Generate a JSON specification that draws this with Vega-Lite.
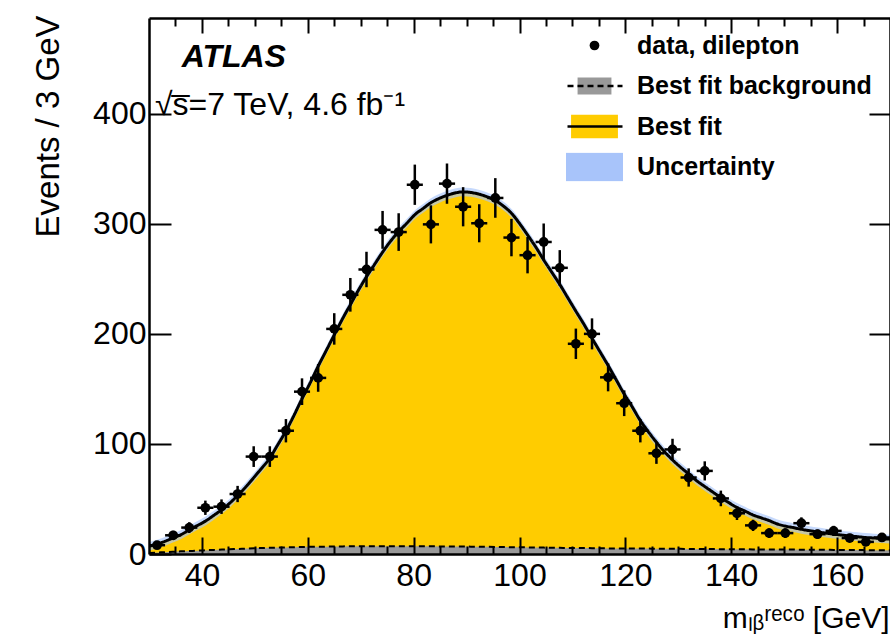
{
  "$schema": "https://vega.github.io/schema/vega-lite/v6.json",
  "width": 741,
  "height": 536,
  "autosize": {"type": "none"},
  "padding": {"left": 149, "top": 18, "right": 0, "bottom": 81},
  "background": "white",
  "config": {"font": "Liberation Sans", "view": {"stroke": null}},
  "title": {
    "text": "\u200b\u00a0\u00a0\u00a0ATLAS",
    "subtitle": "√s̅=7 TeV, 4.6 fb⁻¹",
    "anchor": "start",
    "frame": "group",
    "orient": "top",
    "offset": 0,
    "dx": 6,
    "dy": 107,
    "font": "Liberation Sans",
    "fontSize": 32,
    "fontWeight": "bold",
    "fontStyle": "italic",
    "color": "black",
    "subtitleFont": "Liberation Sans",
    "subtitleFontSize": 32,
    "subtitleColor": "black",
    "subtitlePadding": 16
  },
  "datasets": {
    "pts": [
      {"x": 31.52, "n": 8, "lo": 5.2, "hi": 10.8, "xl": 30.0, "xh": 33.04},
      {"x": 34.57, "n": 17, "lo": 12.9, "hi": 21.1, "xl": 33.04, "xh": 36.09},
      {"x": 37.61, "n": 24, "lo": 19.1, "hi": 28.9, "xl": 36.09, "xh": 39.13},
      {"x": 40.65, "n": 42, "lo": 35.5, "hi": 48.5, "xl": 39.13, "xh": 42.17},
      {"x": 43.7, "n": 43, "lo": 36.4, "hi": 49.6, "xl": 42.17, "xh": 45.22},
      {"x": 46.74, "n": 54.5, "lo": 47.1, "hi": 61.9, "xl": 45.22, "xh": 48.26},
      {"x": 49.78, "n": 88.5, "lo": 79.1, "hi": 97.9, "xl": 48.26, "xh": 51.3},
      {"x": 52.83, "n": 88.5, "lo": 79.1, "hi": 97.9, "xl": 51.3, "xh": 54.35},
      {"x": 55.87, "n": 112, "lo": 101.4, "hi": 122.6, "xl": 54.35, "xh": 57.39},
      {"x": 58.91, "n": 147.5, "lo": 135.4, "hi": 159.6, "xl": 57.39, "xh": 60.43},
      {"x": 61.96, "n": 160, "lo": 147.4, "hi": 172.6, "xl": 60.43, "xh": 63.48},
      {"x": 65.0, "n": 204.5, "lo": 190.2, "hi": 218.8, "xl": 63.48, "xh": 66.52},
      {"x": 68.04, "n": 235.5, "lo": 220.2, "hi": 250.8, "xl": 66.52, "xh": 69.57},
      {"x": 71.09, "n": 258.5, "lo": 242.4, "hi": 274.6, "xl": 69.57, "xh": 72.61},
      {"x": 74.13, "n": 294.5, "lo": 277.3, "hi": 311.7, "xl": 72.61, "xh": 75.65},
      {"x": 77.17, "n": 292.5, "lo": 275.4, "hi": 309.6, "xl": 75.65, "xh": 78.7},
      {"x": 80.22, "n": 335.5, "lo": 317.2, "hi": 353.8, "xl": 78.7, "xh": 81.74},
      {"x": 83.26, "n": 299.5, "lo": 282.2, "hi": 316.8, "xl": 81.74, "xh": 84.78},
      {"x": 86.3, "n": 336.5, "lo": 318.2, "hi": 354.8, "xl": 84.78, "xh": 87.83},
      {"x": 89.35, "n": 315.5, "lo": 297.7, "hi": 333.3, "xl": 87.83, "xh": 90.87},
      {"x": 92.39, "n": 300.5, "lo": 283.2, "hi": 317.8, "xl": 90.87, "xh": 93.91},
      {"x": 95.43, "n": 323.5, "lo": 305.5, "hi": 341.5, "xl": 93.91, "xh": 96.96},
      {"x": 98.48, "n": 287.5, "lo": 270.5, "hi": 304.5, "xl": 96.96, "xh": 100.0},
      {"x": 101.52, "n": 271.5, "lo": 255.0, "hi": 288.0, "xl": 100.0, "xh": 103.04},
      {"x": 104.57, "n": 283.5, "lo": 266.7, "hi": 300.3, "xl": 103.04, "xh": 106.09},
      {"x": 107.61, "n": 260, "lo": 243.9, "hi": 276.1, "xl": 106.09, "xh": 109.13},
      {"x": 110.65, "n": 191, "lo": 177.2, "hi": 204.8, "xl": 109.13, "xh": 112.17},
      {"x": 113.7, "n": 200, "lo": 185.9, "hi": 214.1, "xl": 112.17, "xh": 115.22},
      {"x": 116.74, "n": 160.5, "lo": 147.8, "hi": 173.2, "xl": 115.22, "xh": 118.26},
      {"x": 119.78, "n": 137, "lo": 125.3, "hi": 148.7, "xl": 118.26, "xh": 121.3},
      {"x": 122.83, "n": 112, "lo": 101.4, "hi": 122.6, "xl": 121.3, "xh": 124.35},
      {"x": 125.87, "n": 91.5, "lo": 81.9, "hi": 101.1, "xl": 124.35, "xh": 127.39},
      {"x": 128.91, "n": 95, "lo": 85.3, "hi": 104.7, "xl": 127.39, "xh": 130.43},
      {"x": 131.96, "n": 69.5, "lo": 61.2, "hi": 77.8, "xl": 130.43, "xh": 133.48},
      {"x": 135.0, "n": 75.5, "lo": 66.8, "hi": 84.2, "xl": 133.48, "xh": 136.52},
      {"x": 138.04, "n": 50.5, "lo": 43.4, "hi": 57.6, "xl": 136.52, "xh": 139.57},
      {"x": 141.09, "n": 37, "lo": 30.9, "hi": 43.1, "xl": 139.57, "xh": 142.61},
      {"x": 144.13, "n": 26, "lo": 20.9, "hi": 31.1, "xl": 142.61, "xh": 145.65},
      {"x": 147.17, "n": 19, "lo": 14.6, "hi": 23.4, "xl": 145.65, "xh": 148.7},
      {"x": 150.22, "n": 19, "lo": 14.6, "hi": 23.4, "xl": 148.7, "xh": 151.74},
      {"x": 153.26, "n": 28, "lo": 22.7, "hi": 33.3, "xl": 151.74, "xh": 154.78},
      {"x": 156.3, "n": 18, "lo": 13.8, "hi": 22.2, "xl": 154.78, "xh": 157.83},
      {"x": 159.35, "n": 21, "lo": 16.4, "hi": 25.6, "xl": 157.83, "xh": 160.87},
      {"x": 162.39, "n": 14.5, "lo": 10.7, "hi": 18.3, "xl": 160.87, "xh": 163.91},
      {"x": 165.43, "n": 11, "lo": 7.7, "hi": 14.3, "xl": 163.91, "xh": 166.96},
      {"x": 168.48, "n": 15, "lo": 11.1, "hi": 18.9, "xl": 166.96, "xh": 170.0}
    ],
    "fit": [
      {"x": 30, "fit": 7, "lo": 3, "hi": 11, "bkg": 1},
      {"x": 31.5, "fit": 9, "lo": 5, "hi": 13, "bkg": 1.3},
      {"x": 33, "fit": 11.5, "lo": 7.5, "hi": 15.5, "bkg": 1.7},
      {"x": 34.5, "fit": 14.5, "lo": 10.5, "hi": 18.5, "bkg": 2},
      {"x": 36, "fit": 17.5, "lo": 13.5, "hi": 21.5, "bkg": 2.4},
      {"x": 37.5, "fit": 21.5, "lo": 17.5, "hi": 25.5, "bkg": 2.7},
      {"x": 39, "fit": 25.5, "lo": 21.5, "hi": 29.5, "bkg": 3},
      {"x": 40.7, "fit": 30, "lo": 26, "hi": 34, "bkg": 3.4},
      {"x": 42.2, "fit": 35, "lo": 31, "hi": 39, "bkg": 3.7},
      {"x": 43.8, "fit": 40.5, "lo": 36.5, "hi": 44.5, "bkg": 4},
      {"x": 45.2, "fit": 46, "lo": 42, "hi": 50, "bkg": 4.3},
      {"x": 46.7, "fit": 53, "lo": 49, "hi": 57, "bkg": 4.6},
      {"x": 48.3, "fit": 61, "lo": 57, "hi": 65, "bkg": 4.9},
      {"x": 49.9, "fit": 70, "lo": 66, "hi": 74, "bkg": 5.2},
      {"x": 51.3, "fit": 78, "lo": 74, "hi": 82, "bkg": 5.4},
      {"x": 52.8, "fit": 87, "lo": 83, "hi": 91, "bkg": 5.6},
      {"x": 54.3, "fit": 99, "lo": 95, "hi": 103, "bkg": 5.8},
      {"x": 55.9, "fit": 112, "lo": 108, "hi": 116, "bkg": 6},
      {"x": 57.4, "fit": 126, "lo": 122, "hi": 130, "bkg": 6.2},
      {"x": 58.9, "fit": 141, "lo": 137, "hi": 145, "bkg": 6.4},
      {"x": 60.4, "fit": 155, "lo": 151, "hi": 159, "bkg": 6.5},
      {"x": 61.9, "fit": 170, "lo": 166, "hi": 174, "bkg": 6.6},
      {"x": 63.5, "fit": 185, "lo": 181, "hi": 189, "bkg": 6.7},
      {"x": 65.1, "fit": 200, "lo": 196, "hi": 204, "bkg": 6.8},
      {"x": 66.6, "fit": 214, "lo": 210, "hi": 218, "bkg": 6.9},
      {"x": 68.1, "fit": 227, "lo": 223, "hi": 231, "bkg": 7},
      {"x": 69.6, "fit": 240, "lo": 236, "hi": 244, "bkg": 7},
      {"x": 71.1, "fit": 252, "lo": 248, "hi": 256, "bkg": 7},
      {"x": 72.6, "fit": 263, "lo": 259, "hi": 267, "bkg": 7},
      {"x": 74.1, "fit": 274, "lo": 270, "hi": 278, "bkg": 7},
      {"x": 75.6, "fit": 284, "lo": 280, "hi": 288, "bkg": 7},
      {"x": 77.2, "fit": 293, "lo": 289, "hi": 297, "bkg": 7},
      {"x": 78.8, "fit": 301, "lo": 297, "hi": 305, "bkg": 7},
      {"x": 80.4, "fit": 309, "lo": 305, "hi": 313, "bkg": 7},
      {"x": 81.8, "fit": 314, "lo": 310, "hi": 318, "bkg": 7},
      {"x": 83.2, "fit": 319, "lo": 315, "hi": 323, "bkg": 7},
      {"x": 84.8, "fit": 323, "lo": 319, "hi": 327, "bkg": 6.9},
      {"x": 86.4, "fit": 326, "lo": 322, "hi": 330, "bkg": 6.9},
      {"x": 87.8, "fit": 328, "lo": 324, "hi": 332, "bkg": 6.8},
      {"x": 89.3, "fit": 329, "lo": 325, "hi": 333, "bkg": 6.8},
      {"x": 90.8, "fit": 328.5, "lo": 324.5, "hi": 332.5, "bkg": 6.7},
      {"x": 92.3, "fit": 327, "lo": 323, "hi": 331, "bkg": 6.6},
      {"x": 93.9, "fit": 324.5, "lo": 320.5, "hi": 328.5, "bkg": 6.5},
      {"x": 95.5, "fit": 321, "lo": 317, "hi": 325, "bkg": 6.4},
      {"x": 97, "fit": 316, "lo": 312, "hi": 320, "bkg": 6.3},
      {"x": 98.6, "fit": 309, "lo": 305, "hi": 313, "bkg": 6.2},
      {"x": 100.2, "fit": 299, "lo": 295, "hi": 303, "bkg": 6.1},
      {"x": 101.8, "fit": 288, "lo": 284, "hi": 292, "bkg": 6},
      {"x": 103.2, "fit": 278, "lo": 274, "hi": 282, "bkg": 5.9},
      {"x": 104.6, "fit": 267, "lo": 263, "hi": 271, "bkg": 5.8},
      {"x": 106.1, "fit": 256, "lo": 252, "hi": 260, "bkg": 5.7},
      {"x": 107.6, "fit": 245, "lo": 241, "hi": 249, "bkg": 5.6},
      {"x": 109.1, "fit": 233, "lo": 229, "hi": 237, "bkg": 5.5},
      {"x": 110.6, "fit": 221, "lo": 217, "hi": 225, "bkg": 5.5},
      {"x": 112.2, "fit": 208.5, "lo": 204.5, "hi": 212.5, "bkg": 5.4},
      {"x": 113.7, "fit": 196, "lo": 192, "hi": 200, "bkg": 5.3},
      {"x": 115.3, "fit": 183, "lo": 179, "hi": 187, "bkg": 5.2},
      {"x": 116.9, "fit": 170, "lo": 166, "hi": 174, "bkg": 5.1},
      {"x": 118.3, "fit": 158, "lo": 154, "hi": 162, "bkg": 5.1},
      {"x": 119.7, "fit": 146, "lo": 142, "hi": 150, "bkg": 5},
      {"x": 121.2, "fit": 134.5, "lo": 130.5, "hi": 138.5, "bkg": 5},
      {"x": 122.6, "fit": 123, "lo": 119, "hi": 127, "bkg": 4.9},
      {"x": 124.2, "fit": 112, "lo": 108, "hi": 116, "bkg": 4.9},
      {"x": 125.8, "fit": 102, "lo": 98, "hi": 106, "bkg": 4.8},
      {"x": 127.3, "fit": 93.5, "lo": 89.5, "hi": 97.5, "bkg": 4.8},
      {"x": 128.8, "fit": 86, "lo": 82, "hi": 90, "bkg": 4.7},
      {"x": 130.4, "fit": 79, "lo": 75, "hi": 83, "bkg": 4.7},
      {"x": 131.9, "fit": 73, "lo": 69, "hi": 77, "bkg": 4.6},
      {"x": 133.5, "fit": 66.5, "lo": 62.5, "hi": 70.5, "bkg": 4.6},
      {"x": 135.1, "fit": 61, "lo": 57, "hi": 65, "bkg": 4.5},
      {"x": 136.6, "fit": 56, "lo": 52, "hi": 60, "bkg": 4.5},
      {"x": 138.1, "fit": 51, "lo": 47, "hi": 55, "bkg": 4.4},
      {"x": 139.6, "fit": 46.5, "lo": 42.5, "hi": 50.5, "bkg": 4.4},
      {"x": 141, "fit": 42.5, "lo": 38.5, "hi": 46.5, "bkg": 4.3},
      {"x": 142.6, "fit": 39, "lo": 35, "hi": 43, "bkg": 4.3},
      {"x": 144.1, "fit": 35.5, "lo": 31.5, "hi": 39.5, "bkg": 4.2},
      {"x": 145.7, "fit": 32.8, "lo": 28.8, "hi": 36.8, "bkg": 4.2},
      {"x": 147.2, "fit": 30.3, "lo": 26.3, "hi": 34.3, "bkg": 4.1},
      {"x": 148.6, "fit": 27.5, "lo": 23.5, "hi": 31.5, "bkg": 4.1},
      {"x": 150.1, "fit": 25.5, "lo": 21.5, "hi": 29.5, "bkg": 4},
      {"x": 151.7, "fit": 24, "lo": 20, "hi": 28, "bkg": 4},
      {"x": 153.2, "fit": 22.5, "lo": 18.5, "hi": 26.5, "bkg": 3.9},
      {"x": 154.8, "fit": 21.2, "lo": 17.2, "hi": 25.2, "bkg": 3.9},
      {"x": 156.4, "fit": 20, "lo": 16, "hi": 24, "bkg": 3.8},
      {"x": 157.9, "fit": 19, "lo": 15, "hi": 23, "bkg": 3.8},
      {"x": 159.4, "fit": 18, "lo": 14, "hi": 22, "bkg": 3.7},
      {"x": 160.9, "fit": 17.2, "lo": 13.2, "hi": 21.2, "bkg": 3.7},
      {"x": 162.3, "fit": 16.4, "lo": 12.4, "hi": 20.4, "bkg": 3.6},
      {"x": 163.9, "fit": 15.7, "lo": 11.7, "hi": 19.7, "bkg": 3.6},
      {"x": 165.4, "fit": 15, "lo": 11, "hi": 19, "bkg": 3.5},
      {"x": 167, "fit": 14.5, "lo": 10.5, "hi": 18.5, "bkg": 3.5},
      {"x": 168.5, "fit": 14, "lo": 10, "hi": 18, "bkg": 3.4},
      {"x": 170, "fit": 13.5, "lo": 9.5, "hi": 17.5, "bkg": 3.4}
    ]
  },
  "resolve": {"axis": {"x": "independent", "y": "independent"}},
  "layer": [
    {
      "data": {"name": "fit"},
      "mark": {"type": "area", "interpolate": "monotone", "opacity": 1, "clip": true},
      "encoding": {
        "x": {
          "field": "x", "type": "quantitative",
          "scale": {"domain": [30, 170], "nice": false, "zero": false},
          "axis": {
            "orient": "bottom",
            "values": [40, 60, 80, 100, 120, 140, 160],
            "labelOverlap": false, "labelFlush": false,
            "labelFont": "Liberation Sans", "labelFontSize": 32, "labelColor": "black", "labelPadding": 23,
            "ticks": true, "tickSize": -17, "tickColor": "#000000", "tickWidth": 2,
            "domain": true, "domainColor": "black", "domainWidth": 2.5,
            "grid": false, "zindex": 2,
            "title": "mₗᵦʳᵉᶜᵒ [GeV]",
            "titleFont": "Liberation Sans", "titleFontSize": 30, "titleFontWeight": "normal", "titleColor": "black",
            "titleAlign": "right", "titleBaseline": "alphabetic", "titleX": 740, "titleY": 73
          }
        },
        "y": {
          "field": "fit", "type": "quantitative",
          "scale": {"domain": [0, 487], "nice": false, "zero": true},
          "axis": {
            "orient": "left",
            "values": [0, 100, 200, 300, 400],
            "labelOverlap": false, "labelFlush": false,
            "labelFont": "Liberation Sans", "labelFontSize": 32, "labelColor": "black", "labelPadding": 25,
            "ticks": true, "tickSize": -22, "tickColor": "#000000", "tickWidth": 2,
            "domain": true, "domainColor": "black", "domainWidth": 2.5,
            "grid": false, "zindex": 2,
            "title": "Events / 3 GeV",
            "titleFont": "Liberation Sans", "titleFontSize": 33, "titleFontWeight": "normal", "titleColor": "black",
            "titleAngle": -90, "titleAlign": "right", "titleBaseline": "middle", "titleX": -101, "titleY": -3
          }
        },
        "color": {
          "datum": "Best fit",
          "scale": {
            "domain": ["data, dilepton", "Best fit background", "Best fit", "Uncertainty"],
            "range": ["#000000", "#999999", "#FFCC00", "#A8C4FA"]
          },
          "legend": {
            "orient": "none", "legendX": 417, "legendY": 13, "title": null, "padding": 0,
            "symbolStrokeWidth": 0, "clipHeight": 29, "rowPadding": 11.5,
            "symbolOpacity": 1,
            "labelFont": "Liberation Sans", "labelFontSize": 25, "labelFontWeight": "bold", "labelColor": "black",
            "labelOffset": 14, "labelLimit": 400
          }
        }
      }
    },
    {
      "data": {"name": "fit"},
      "mark": {"type": "area", "interpolate": "monotone", "opacity": 1, "clip": true},
      "encoding": {
        "x": {
          "field": "x", "type": "quantitative",
          "axis": {
            "orient": "bottom",
            "values": [35, 45, 50, 55, 65, 70, 75, 85, 90, 95, 105, 110, 115, 125, 130, 135, 145, 150, 155, 165],
            "labels": false, "ticks": true, "tickSize": -8, "tickColor": "#000000", "tickWidth": 2,
            "domain": false, "grid": false, "title": null, "zindex": 2
          }
        },
        "y": {"field": "bkg", "type": "quantitative", "axis": null},
        "color": {"datum": "Best fit background"}
      }
    },
    {
      "data": {"name": "fit"},
      "mark": {"type": "area", "interpolate": "monotone", "opacity": 0.65, "clip": true},
      "encoding": {
        "x": {
          "field": "x", "type": "quantitative",
          "axis": {
            "orient": "top",
            "values": [35, 45, 50, 55, 65, 70, 75, 85, 90, 95, 105, 110, 115, 125, 130, 135, 145, 150, 155, 165],
            "labels": false, "ticks": true, "tickSize": -8, "tickColor": "#000000", "tickWidth": 2,
            "domain": false, "grid": false, "title": null, "zindex": 2
          }
        },
        "y": {"field": "lo", "type": "quantitative", "axis": null},
        "y2": {"field": "hi"},
        "color": {"datum": "Uncertainty"}
      }
    },
    {
      "data": {"name": "fit"},
      "mark": {"type": "line", "interpolate": "monotone", "strokeWidth": 2, "color": "black", "clip": true},
      "encoding": {
        "x": {"field": "x", "type": "quantitative", "axis": null},
        "y": {"field": "bkg", "type": "quantitative", "axis": null},
        "strokeDash": {
          "datum": "Best fit background",
          "scale": {
            "domain": [" ", "Best fit background", "Best fit", "  "],
            "range": [[0, 100], [6, 4], [1, 0], [0, 100]]
          },
          "legend": {
            "orient": "none", "legendX": 417, "legendY": 13, "title": null, "padding": 0,
            "symbolSize": 3025, "symbolStrokeWidth": 2.5, "symbolStrokeColor": "#000000", "symbolType": "stroke",
            "clipHeight": 29, "rowPadding": 11.5,
            "labelExpr": "''", "labelFontSize": 25, "labelOffset": 14
          }
        }
      }
    },
    {
      "data": {"name": "fit"},
      "mark": {"type": "line", "interpolate": "monotone", "strokeWidth": 3, "color": "black", "clip": true},
      "encoding": {
        "x": {"field": "x", "type": "quantitative", "axis": null},
        "y": {"field": "fit", "type": "quantitative", "axis": null},
        "strokeDash": {"datum": "Best fit"}
      }
    },
    {
      "data": {"name": "pts"},
      "mark": {"type": "rule", "color": "black", "strokeWidth": 2.5, "clip": true},
      "encoding": {
        "x": {"field": "x", "type": "quantitative", "axis": null},
        "y": {"field": "lo", "type": "quantitative", "axis": null},
        "y2": {"field": "hi"}
      }
    },
    {
      "data": {"name": "pts"},
      "mark": {"type": "rule", "color": "black", "strokeWidth": 2.5, "clip": true},
      "encoding": {
        "x": {"field": "xl", "type": "quantitative", "axis": null},
        "x2": {"field": "xh"},
        "y": {"field": "n", "type": "quantitative", "axis": null}
      }
    },
    {
      "data": {"name": "pts"},
      "mark": {"type": "point", "filled": true, "opacity": 1, "strokeWidth": 0, "clip": true},
      "encoding": {
        "x": {
          "field": "x", "type": "quantitative",
          "axis": {
            "orient": "top",
            "values": [40, 60, 80, 100, 120, 140, 160],
            "labels": false, "ticks": true, "tickSize": -15, "tickColor": "#000000", "tickWidth": 2,
            "domain": true, "domainColor": "black", "domainWidth": 2.5,
            "grid": false, "title": null, "zindex": 2
          }
        },
        "y": {
          "field": "n", "type": "quantitative",
          "axis": {
            "orient": "right",
            "values": [0, 100, 200, 300, 400],
            "labels": false, "ticks": true, "tickSize": -21, "tickColor": "#000000", "tickWidth": 2,
            "domain": true, "domainColor": "black", "domainWidth": 2.5,
            "grid": false, "title": null, "zindex": 2
          }
        },
        "color": {"datum": "data, dilepton"},
        "shape": {
          "datum": "data, dilepton",
          "scale": {
            "domain": ["data, dilepton", "Best fit background", "Best fit", "Uncertainty"],
            "range": ["circle", "M-1,-0.5H1V0.5H-1Z", "M-1,-0.5H1V0.5H-1Z", "M-1,-0.5H1V0.5H-1Z"]
          }
        },
        "size": {
          "datum": "data, dilepton",
          "type": "ordinal",
          "scale": {
            "domain": ["data, dilepton", "Best fit background", "Best fit", "Uncertainty"],
            "range": [95, 3249, 3249, 3249]
          }
        }
      }
    }
  ]
}
